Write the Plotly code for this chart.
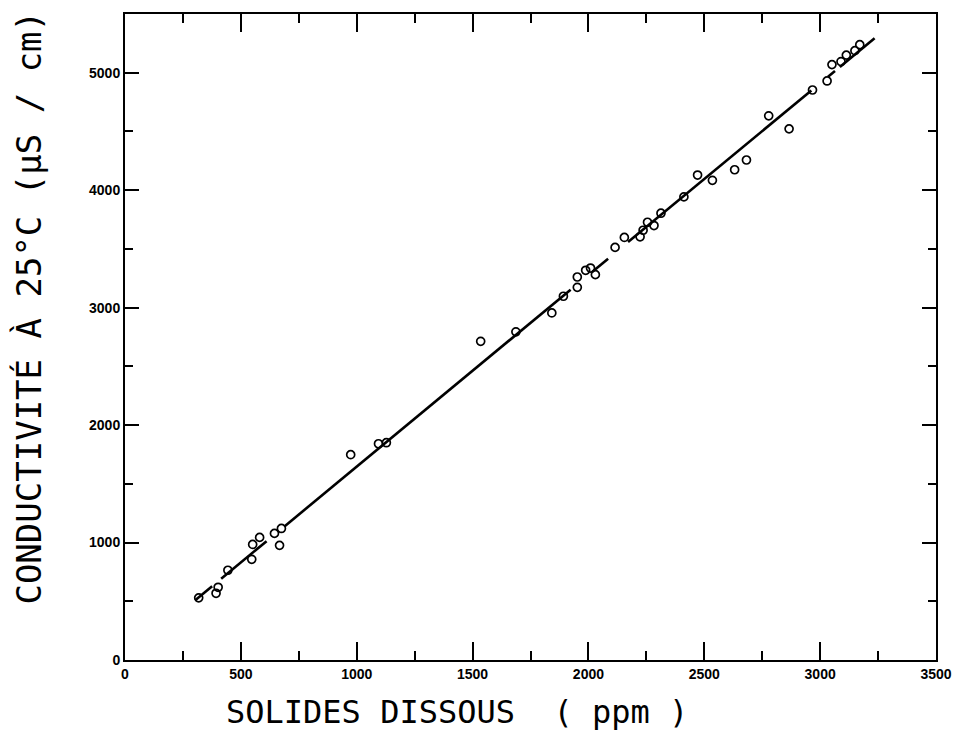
import plotly.graph_objects as go

# Measured samples: total dissolved solids (ppm) vs conductivity at 25°C (µS/cm)
solids_ppm = [318, 393, 402, 444, 547, 551, 581, 645, 675, 667,
              974, 1094, 1128, 1535, 1687, 1842, 1892, 1952, 1952, 1988,
              2009, 2030, 2115, 2155, 2223, 2236, 2255, 2283, 2313, 2412,
              2471, 2535, 2631, 2682, 2778, 2866, 2967, 3030, 3051, 3090,
              3113, 3150, 3171]
conductivity = [529, 568, 619, 764, 857, 984, 1044, 1078, 1120, 976,
                1748, 1841, 1850, 2713, 2794, 2955, 3097, 3173, 3261, 3318,
                3337, 3281, 3513, 3598, 3603, 3659, 3727, 3699, 3804, 3943,
                4129, 4084, 4174, 4257, 4633, 4522, 4853, 4930, 5069, 5095,
                5150, 5188, 5239]

# Hand-drawn fitted line, read as broken segments (start/end of each piece)
fit_x_start = [303, 415, 688, 2017, 2171, 3034, 3085]
fit_x_end = [376, 611, 1923, 2085, 2962, 3064, 3235]
fit_y_start = [509, 692, 1137, 3306, 3558, 4966, 5049]
fit_y_end = [628, 1012, 3153, 3417, 4849, 5015, 5294]

x_ticks = [0, 500, 1000, 1500, 2000, 2500, 3000, 3500]
y_ticks = [0, 1000, 2000, 3000, 4000, 5000]

line_x, line_y = [], []
for xs, xe, ys, ye in zip(fit_x_start, fit_x_end, fit_y_start, fit_y_end):
    line_x += [xs, xe, None]
    line_y += [ys, ye, None]

fig = go.Figure()
fig.add_trace(go.Scatter(x=line_x, y=line_y, mode="lines",
                         line=dict(color="black", width=2.6),
                         connectgaps=False, showlegend=False))
fig.add_trace(go.Scatter(x=solids_ppm, y=conductivity, mode="markers",
                         marker=dict(symbol="circle-open", size=8,
                                     color="black", line=dict(width=1.7)),
                         showlegend=False))

tickfont = dict(family="Liberation Sans", size=14, color="black", weight="bold")
fig.update_xaxes(range=[0, 3500], tickvals=x_ticks,
                 ticktext=[str(v) for v in x_ticks],
                 showgrid=False, zeroline=False, showline=True,
                 linecolor="black", linewidth=2, mirror="allticks",
                 ticks="inside", ticklen=18, tickwidth=2, tickcolor="black",
                 minor=dict(dtick=250, ticks="inside", ticklen=9,
                            tickwidth=2, tickcolor="black"),
                 tickfont=tickfont)
fig.update_yaxes(range=[0, 5500], tickvals=y_ticks,
                 ticktext=[str(v) for v in y_ticks],
                 showgrid=False, zeroline=False, showline=True,
                 linecolor="black", linewidth=2, mirror="allticks",
                 ticks="inside", ticklen=14, tickwidth=2, tickcolor="black",
                 minor=dict(dtick=500, ticks="inside", ticklen=8,
                            tickwidth=2, tickcolor="black"),
                 tickfont=tickfont)

fig.add_annotation(text="SOLIDES DISSOUS  ( ppm )", xref="paper", yref="paper",
                   x=0.409, y=-0.080, yanchor="middle", xanchor="center",
                   showarrow=False,
                   font=dict(family="DejaVu Sans Mono", size=32, color="black"))
fig.add_annotation(text="CONDUCTIVITÉ À 25°C (µS / cm)", xref="paper", yref="paper",
                   x=-0.118, xanchor="center", y=0.546, yanchor="middle",
                   textangle=-90, showarrow=False,
                   font=dict(family="DejaVu Sans Mono", size=34, color="black"))

fig.update_layout(width=964, height=748,
                  margin=dict(l=125, r=21, t=13, b=88),
                  plot_bgcolor="white", paper_bgcolor="white")

fig.write_html("out.html")
